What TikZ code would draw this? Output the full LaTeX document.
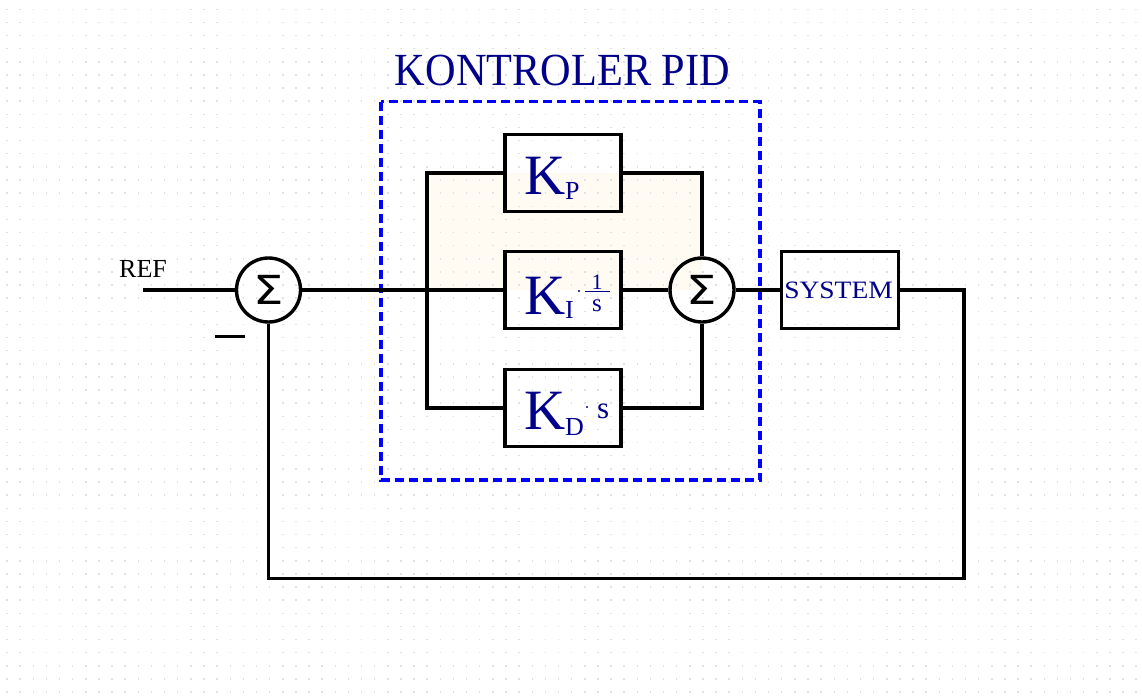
\documentclass[tikz,border=0pt]{standalone}
\usepackage{fontspec}
\setmainfont{Liberation Serif}
\newfontfamily\dejavu{DejaVu Sans}
\definecolor{navytext}{RGB}{0,0,139}
\definecolor{beigefill}{RGB}{255,250,242}
\definecolor{griddot}{RGB}{225,225,225}
\definecolor{pidblue}{RGB}{0,0,255}
\newcommand{\fs}[1]{\fontsize{#1}{#1}\selectfont}
\begin{document}
\begin{tikzpicture}[x=1pt,y=-1pt,
  wire/.style={line width=3.4pt, line join=miter},
  blk/.style={draw, line width=3.4pt, minimum width=116pt, minimum height=77pt, inner sep=0pt},
  sumnode/.style={draw, circle, line width=3.4pt, minimum size=64pt, inner sep=0pt, font=\dejavu\fs{40}},
  lbl/.style={inner sep=0pt, text=navytext},
  dotmul/.style={fill=navytext}]
\useasboundingbox (0,0) rectangle (1142,697);
\fill[white] (0,0) rectangle (1142,697);
% beige area
\fill[beigefill] (427,173) rectangle (702,290);
% dot grid
\foreach \j in {0,...,52}
  \draw[griddot, line width=1.5pt, dash pattern=on 1.5pt off 11.63pt]
    (6.3,{9.3+13.13*\j}) -- (1142,{9.3+13.13*\j});
% title and dashed frame
\node[lbl, anchor=base] (title) at (562.5,85) {\fs{46}\scalebox{0.92}[1]{KONTROLER PID}};
\draw[pidblue, line width=3.4pt, dash pattern=on 9pt off 5pt] (381,101.5) rectangle (760,480);
% nodes
\node[sumnode] (s1) at (268.5,290) {\scalebox{1.2}[1]{Σ}};
\node[sumnode] (s2) at (702,290) {\scalebox{1.2}[1]{Σ}};
\node[blk] (kp) at (563,173) {};
\node[blk] (ki) at (563,290) {};
\node[blk] (kd) at (563,408) {};
\node[blk, minimum width=117pt] (sys) at (840,290) {};
% block texts
\node[lbl, anchor=base west] (kpK) at (524,194) {\fs{57}K};
\node[lbl, anchor=base west] (kpP) at (565,199) {\fs{26}P};
\node[lbl, anchor=base west] (kiK) at (524,314) {\fs{57}K};
\node[lbl, anchor=base west] (kiI) at (565,318) {\fs{26}I};
\fill[dotmul] (579,291) circle (1.2pt);
\node[lbl, anchor=base] (kione) at (597,289) {\fs{22}1};
\draw[navytext, line width=1pt] (585,291.5) -- (610,291.5);
\node[lbl, anchor=base] (kis) at (597,311) {\fs{25}s};
\node[lbl, anchor=base west] (kdK) at (524,429) {\fs{57}K};
\node[lbl, anchor=base west] (kdD) at (565,435) {\fs{26}D};
\fill[dotmul] (587,407) circle (1.2pt);
\node[lbl, anchor=base west] (kds) at (597,418.5) {\fs{31}s};
\node[lbl, anchor=base] (systxt) at (838.5,298) {\fs{25}\scalebox{1.1}[1]{SYSTEM}};
\node[inner sep=0pt, anchor=base west] (ref) at (119,277) {\fs{26}REF};
% coordinates
\coordinate (in) at (143,290);
\coordinate (jt) at (427,173);
\coordinate (jb) at (427,408);
\coordinate (fbr) at (964,290);
\coordinate (fbb) at (964,578.5);
\coordinate (fbl) at (268.5,578.5);
\coordinate (m1) at (215,336.5);
\coordinate (m2) at (245,336.5);
% wires
\draw[wire] (in) -- (s1.west);
\draw[wire] (s1.east) -- (ki.west);
\draw[wire] (kp.west) -- (jt) -- (jb) -- (kd.west);
\draw[wire] (kp.east) -| (s2.north);
\draw[wire] (kd.east) -| (s2.south);
\draw[wire] (ki.east) -- (s2.west);
\draw[wire] (s2.east) -- (sys.west);
\draw[wire] (sys.east) -- (fbr) -- (fbb) -- (fbl) -- (s1.south);
\draw[line width=3.6pt] (m1) -- (m2);
\end{tikzpicture}
\end{document}
